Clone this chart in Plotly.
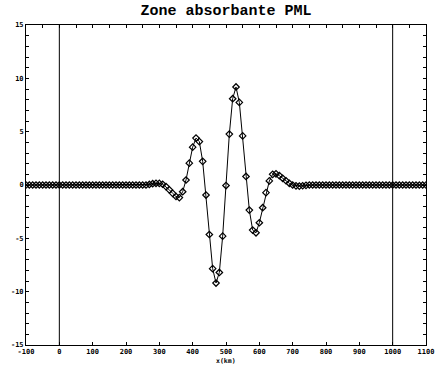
import plotly.graph_objects as go

# positions along the domain (km), 10 km spacing
x_km = list(range(-100, 1101, 10))

# wave field values (non-zero part), keyed by km
wave_part = {
    270: 0.05, 280: 0.12, 290: 0.16, 300: 0.15, 310: 0.07, 320: -0.15,
    330: -0.45, 340: -0.78, 350: -1.08, 360: -1.18, 370: -0.63, 380: 0.47,
    390: 2.05, 400: 3.55, 410: 4.4, 420: 4.07, 430: 2.22, 440: -0.94,
    450: -4.64, 460: -7.84, 470: -9.19, 480: -8.2, 490: -4.8, 500: -0.05,
    510: 4.77, 520: 8.09, 530: 9.19, 540: 7.74, 550: 4.6, 560: 0.8,
    570: -2.35, 580: -4.23, 590: -4.48, 600: -3.54, 610: -2.13, 620: -0.72,
    630: 0.38, 640: 1.0, 650: 1.05, 660: 0.88, 670: 0.63, 680: 0.4,
    690: 0.16, 700: 0.0, 710: -0.08, 720: -0.1, 730: -0.07, 740: -0.03,
}
values = [wave_part.get(x, 0.0) for x in x_km]

# PML boundaries (km)
boundaries = [0, 1000]

x_tick_vals = list(range(-100, 1101, 100))
x_tick_text = [str(v) for v in x_tick_vals]
x_top_tick_vals = list(range(-100, 1101, 50))
y_tick_vals = list(range(-15, 16, 1))
y_tick_text = [str(v) if v % 5 == 0 else "" for v in y_tick_vals]

title_text = "Zone absorbante PML"
x_title = "x(km)"

fig = go.Figure()
fig.add_trace(go.Scatter(
    x=x_km, y=values, mode="lines+markers",
    line=dict(color="black", width=1),
    marker=dict(symbol="diamond-open", size=5, color="black",
                line=dict(color="black", width=1.2)),
    showlegend=False,
))
# invisible trace to activate the top axis
fig.add_trace(go.Scatter(x=[x_km[0], x_km[-1]], y=[0, 0], xaxis="x2",
                         mode="none", showlegend=False, hoverinfo="skip"))

for b in boundaries:
    fig.add_shape(type="line", xref="x", yref="paper", x0=b, x1=b, y0=0, y1=1,
                  line=dict(color="black", width=1))

tick_font = dict(family="DejaVu Sans Mono", size=7, color="black")

fig.add_annotation(text="<b>" + x_title + "</b>", xref="paper", yref="paper",
                   x=0.5, y=-0.05, xanchor="center", yanchor="middle",
                   showarrow=False,
                   font=dict(family="DejaVu Sans Mono", size=6.5, color="black"))

fig.update_layout(
    width=435, height=366,
    margin=dict(l=26, r=9, t=25, b=21),
    paper_bgcolor="white", plot_bgcolor="white",
    title=dict(text="<b>" + title_text + "</b>", x=0.5, xanchor="center",
               xref="paper", y=0.973, yanchor="middle",
               font=dict(family="Liberation Mono", size=15, color="black")),
    xaxis=dict(range=[-100, 1100], tickmode="array", tickvals=x_tick_vals,
               ticktext=["<b>" + t + "</b>" for t in x_tick_text],
               ticks="inside", ticklen=3, tickcolor="black",
               showline=True, linecolor="black", linewidth=1,
               showgrid=False, zeroline=False, tickfont=tick_font,
               automargin=False),
    xaxis2=dict(range=[-100, 1100], overlaying="x", side="top",
                tickmode="array", tickvals=x_top_tick_vals, showticklabels=False,
                ticks="inside", ticklen=3, tickcolor="black",
                showline=True, linecolor="black", linewidth=1,
                showgrid=False, zeroline=False, automargin=False),
    yaxis=dict(range=[-15, 15], tickmode="array", tickvals=y_tick_vals,
               ticktext=["<b>" + t + "</b>" if t else "" for t in y_tick_text],
               ticks="inside", ticklen=3, tickcolor="black",
               showline=True, linecolor="black", linewidth=1, mirror="ticks",
               showgrid=False, zeroline=False, tickfont=tick_font,
               automargin=False),
)

fig.write_html("out.html", config={"displayModeBar": False},
               post_script="document.body.style.margin='0';document.body.style.padding='0';")
